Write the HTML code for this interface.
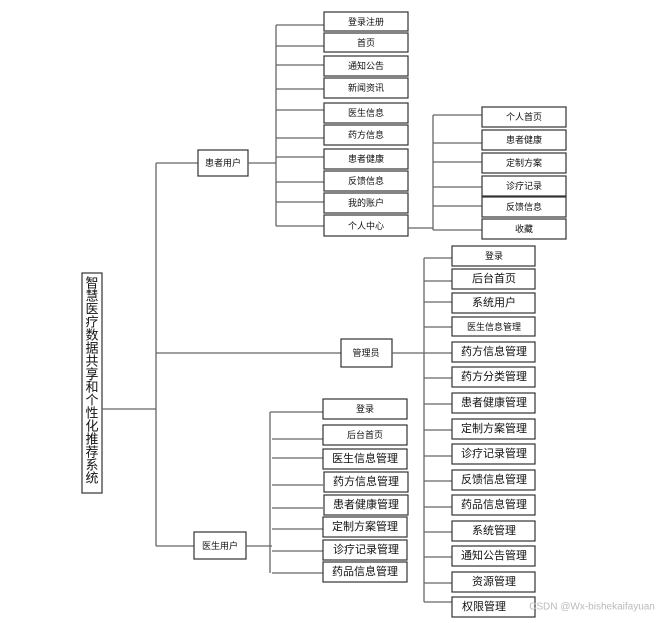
<!DOCTYPE html>
<html><head><meta charset="utf-8"><style>
html,body{margin:0;padding:0;background:#fff;}
svg{display:block;}
text{font-family:"Liberation Sans","Noto Sans CJK SC",sans-serif;fill:#111;text-anchor:middle;dominant-baseline:central;}
.b{fill:#fff;stroke:#333;stroke-width:1.2;}
.l{stroke:#666;stroke-width:1.3;fill:none;}
</style></head><body>
<svg width="669" height="623" viewBox="0 0 669 623" xmlns="http://www.w3.org/2000/svg">
<!-- root -->
<rect class="b" x="82" y="273" width="20" height="220"/>
<text x="92" y="283" font-size="13">智</text>
<text x="92" y="296" font-size="13">慧</text>
<text x="92" y="309" font-size="13">医</text>
<text x="92" y="322" font-size="13">疗</text>
<text x="92" y="335" font-size="13">数</text>
<text x="92" y="348" font-size="13">据</text>
<text x="92" y="361" font-size="13">共</text>
<text x="92" y="374" font-size="13">享</text>
<text x="92" y="387" font-size="13">和</text>
<text x="92" y="400" font-size="13">个</text>
<text x="92" y="413" font-size="13">性</text>
<text x="92" y="426" font-size="13">化</text>
<text x="92" y="439" font-size="13">推</text>
<text x="92" y="452" font-size="13">荐</text>
<text x="92" y="465" font-size="13">系</text>
<text x="92" y="478" font-size="13">统</text>
<path class="l" d="M102 409H156M156 163V546M156 163H198M156 353H341M156 546H194"/>
<!-- level 1 -->
<rect class="b" x="198" y="150" width="50" height="26"/><text x="223" y="163" font-size="9">患者用户</text>
<rect class="b" x="341" y="339" width="51" height="28"/><text x="366" y="353" font-size="9">管理员</text>
<rect class="b" x="194" y="532" width="52" height="27"/><text x="220" y="546" font-size="9">医生用户</text>
<!-- patient -->
<path class="l" d="M248 163H276M276 25V226"/>
<g font-size="9">
<path class="l" d="M276 25H324M276 46H324M276 65H324M276 89H324M276 110H324M276 138H324M276 157H324M276 182H324M276 202H324M276 226H324"/>
<rect class="b" x="324" y="12" width="84" height="19"/><text x="366" y="22">登录注册</text>
<rect class="b" x="324" y="33" width="84" height="19"/><text x="366" y="43">首页</text>
<rect class="b" x="324" y="56" width="84" height="20"/><text x="366" y="66">通知公告</text>
<rect class="b" x="324" y="78" width="84" height="20"/><text x="366" y="88">新闻资讯</text>
<rect class="b" x="324" y="103" width="84" height="20"/><text x="366" y="113">医生信息</text>
<rect class="b" x="324" y="125" width="84" height="20"/><text x="366" y="135">药方信息</text>
<rect class="b" x="324" y="149" width="84" height="20"/><text x="366" y="159">患者健康</text>
<rect class="b" x="324" y="171" width="84" height="20"/><text x="366" y="181">反馈信息</text>
<rect class="b" x="324" y="193" width="84" height="20"/><text x="366" y="203">我的账户</text>
<rect class="b" x="324" y="215" width="84" height="21"/><text x="366" y="226">个人中心</text>
<!-- personal center -->
<path class="l" d="M408 228H433M433 115V230M433 115H482M433 143H482M433 162H482M433 187H482M433 206H482M433 230H482"/>
<rect class="b" x="482" y="107" width="84" height="20"/><text x="524" y="117">个人首页</text>
<rect class="b" x="482" y="130" width="84" height="20"/><text x="524" y="140">患者健康</text>
<rect class="b" x="482" y="153" width="84" height="20"/><text x="524" y="163">定制方案</text>
<rect class="b" x="482" y="176" width="84" height="20"/><text x="524" y="186">诊疗记录</text>
<rect class="b" x="482" y="197" width="84" height="20"/><text x="524" y="207">反馈信息</text>
<rect class="b" x="482" y="219" width="84" height="20"/><text x="524" y="229">收藏</text>
</g>
<!-- admin -->
<path class="l" d="M392 353H452M424 258V602M424 258H452M424 281H452M424 302H452M424 327H452M424 378H452M424 404H452M424 430H452M424 456H452M424 481H452M424 507H452M424 532H452M424 557H452M424 583H452M424 602H452"/>
<g font-size="11">
<rect class="b" x="452" y="246" width="83" height="20"/><text x="494" y="256" font-size="9">登录</text>
<rect class="b" x="452" y="269" width="83" height="20"/><text x="494" y="279">后台首页</text>
<rect class="b" x="452" y="293" width="83" height="20"/><text x="494" y="303">系统用户</text>
<rect class="b" x="452" y="317" width="83" height="19"/><text x="494" y="327" font-size="9">医生信息管理</text>
<rect class="b" x="452" y="342" width="83" height="20"/><text x="494" y="352">药方信息管理</text>
<rect class="b" x="452" y="367" width="83" height="20"/><text x="494" y="377">药方分类管理</text>
<rect class="b" x="452" y="393" width="83" height="20"/><text x="494" y="403">患者健康管理</text>
<rect class="b" x="452" y="419" width="83" height="20"/><text x="494" y="429">定制方案管理</text>
<rect class="b" x="452" y="444" width="83" height="20"/><text x="494" y="454">诊疗记录管理</text>
<rect class="b" x="452" y="470" width="83" height="20"/><text x="494" y="480">反馈信息管理</text>
<rect class="b" x="452" y="495" width="83" height="20"/><text x="494" y="505">药品信息管理</text>
<rect class="b" x="452" y="521" width="83" height="20"/><text x="494" y="531">系统管理</text>
<rect class="b" x="452" y="546" width="83" height="20"/><text x="494" y="556">通知公告管理</text>
<rect class="b" x="452" y="572" width="83" height="20"/><text x="494" y="582">资源管理</text>
<rect class="b" x="452" y="597" width="83" height="20"/><text x="484" y="607">权限管理</text>
</g>
<!-- doctor -->
<path class="l" d="M246 546H272M270 412V573M270 412H323M272 439H323M272 458H323M272 485H323M272 508H323M272 529H323M272 551H323M272 573H323"/>
<g font-size="11">
<rect class="b" x="323" y="399" width="84" height="20"/><text x="365" y="409" font-size="9">登录</text>
<rect class="b" x="323" y="425" width="84" height="20"/><text x="365" y="435" font-size="9">后台首页</text>
<rect class="b" x="323" y="449" width="84" height="20"/><text x="365" y="459">医生信息管理</text>
<rect class="b" x="324" y="472" width="84" height="20"/><text x="366" y="482">药方信息管理</text>
<rect class="b" x="324" y="495" width="84" height="20"/><text x="366" y="505">患者健康管理</text>
<rect class="b" x="323" y="517" width="84" height="20"/><text x="365" y="527">定制方案管理</text>
<rect class="b" x="323" y="540" width="84" height="20"/><text x="366" y="550">诊疗记录管理</text>
<rect class="b" x="323" y="562" width="84" height="20"/><text x="365" y="572">药品信息管理</text>
</g>
<text x="592" y="607" font-size="10" style="fill:#bbb">CSDN @Wx-bishekaifayuan</text>
</svg>
</body></html>
